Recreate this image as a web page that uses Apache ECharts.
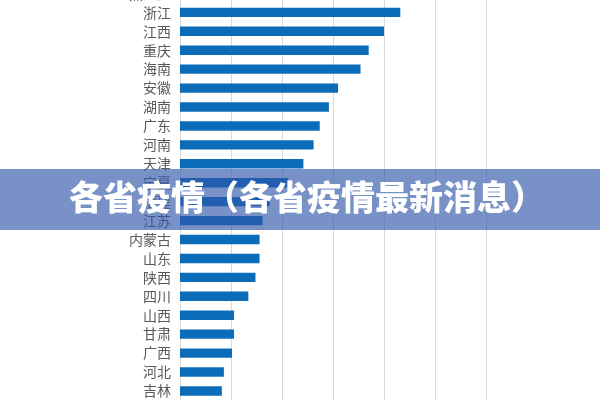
<!DOCTYPE html>
<html>
<head>
<meta charset="utf-8">
<script src="https://cdn.jsdelivr.net/npm/echarts@6/dist/echarts.min.js"></script>
<style>
html,body{margin:0;padding:0;background:#fff;overflow:hidden;width:600px;height:400px;}
#c{position:absolute;left:0;top:-16.4px;width:600px;height:420px;}
</style>
</head>
<body>
<div id="c"></div>
<script>
const provinces = ["黑龙江","浙江","江西","重庆","海南","安徽","湖南","广东","河南","天津","宁夏","福建","江苏","内蒙古","山东","陕西","四川","山西","甘肃","广西","河北","吉林"];
const cases = [230,216,200,185,177,155,146,137,131,121,106,88,81,78,78,74,67,53,53,51,43,41];
const xTicks = {min:0, max:300, interval:50};
const bannerText = "各省疫情（各省疫情最新消息）";

const chart = echarts.init(document.getElementById('c'));
chart.setOption({
  animation:false,
  backgroundColor:'#ffffff',
  grid:{left:180,right:114,top:0,bottom:3.6,containLabel:false},
  xAxis:{
    type:'value', min:xTicks.min, max:xTicks.max, interval:xTicks.interval,
    axisLabel:{show:false}, axisLine:{show:false}, axisTick:{show:false},
    splitLine:{lineStyle:{color:'#d9d9d9',width:1}}
  },
  yAxis:{
    type:'category', data:provinces, inverse:true,
    axisLine:{lineStyle:{color:'#d9d9d9'}}, axisTick:{show:false},
    axisLabel:{color:'#595959',fontSize:14,margin:9,fontFamily:'"Noto Sans CJK SC", sans-serif'}
  },
  series:[{
    type:'bar', data:cases, barWidth:9.4,
    itemStyle:{color:'#0b6cb9'}
  }],
  graphic:[
    {type:'rect', left:0, top:184.9, z:100,
     shape:{width:600,height:61}, style:{fill:'rgba(48,87,171,0.65)'}},
    {type:'text', left:69, top:196, z:101,
     style:{text:bannerText, fill:'#ffffff', fontSize:34, fontWeight:900,
            fontFamily:'"Noto Sans CJK SC", sans-serif'}}
  ]
});
</script>
</body>
</html>
